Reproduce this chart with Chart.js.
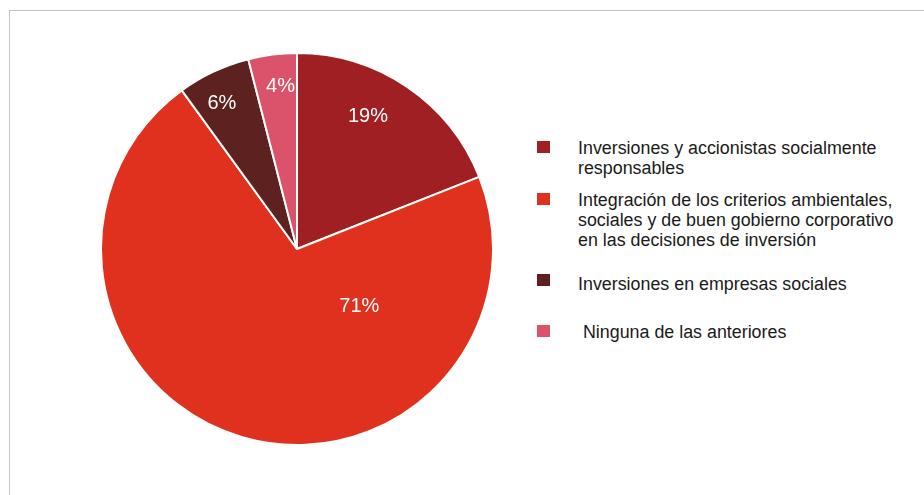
<!DOCTYPE html>
<html>
<head>
<meta charset="utf-8">
<script src="https://cdn.jsdelivr.net/npm/chart.js@4.4.1/dist/chart.umd.min.js"></script>
<style>
    body { margin: 0; background: #fff; font-family: "Liberation Sans", Arial, sans-serif; }
    #wrap { position: relative; width: 924px; height: 495px; overflow: hidden; }
    #frame { position: absolute; left: 9px; top: 10px; width: 1000px; height: 600px; border: 1px solid #c4c4c4; box-sizing: border-box; }
    #pie-box { position: absolute; left: 97px; top: 45px; width: 400px; height: 408px; }
    #legend { position: absolute; left: 0; top: 0; }
    .item { position: absolute; left: 537px; width: 380px; }
    .swatch { position: absolute; left: 0; width: 13px; height: 12px; }
    .text { position: absolute; left: 41px; font-size: 17.85px; line-height: 20px; color: #1a1a1a; white-space: pre; }
</style>
</head>
<body>
<div id="wrap">
    <div id="frame"></div>
    <div id="pie-box"><canvas id="pie"></canvas></div>
    <div id="legend"></div>
</div>
<script>
const categories = [
    ["Inversiones y accionistas socialmente", "responsables"],
    ["Integración de los criterios ambientales,", "sociales y de buen gobierno corporativo", "en las decisiones de inversión"],
    ["Inversiones en empresas sociales"],
    [" Ninguna de las anteriores"]
];
const shares = [19, 71, 6, 4];
const colors = ["#a01f23", "#e0311f", "#5d2120", "#db536b"];

// where each percentage sits inside its slice: fraction of the sweep, fraction of the radius
const labelSpots = [[0.41, 0.77], [0.25, 0.43], [0.41, 0.84], [0.60, 0.84]];

const sliceLabels = {
    id: "sliceLabels",
    afterDatasetsDraw(chart) {
        const ctx = chart.ctx;
        const meta = chart.getDatasetMeta(0);
        ctx.save();
        ctx.fillStyle = "#fff";
        ctx.font = "20px 'Liberation Sans', Arial, sans-serif";
        ctx.textAlign = "center";
        ctx.textBaseline = "middle";
        meta.data.forEach((arc, i) => {
            const p = arc.getProps(["x", "y", "startAngle", "endAngle", "outerRadius"], true);
            const [af, rf] = labelSpots[i];
            const a = p.startAngle + af * (p.endAngle - p.startAngle);
            const r = p.outerRadius * rf;
            ctx.fillText(shares[i] + "%", p.x + Math.cos(a) * r, p.y + Math.sin(a) * r + 1);
        });
        ctx.restore();
    }
};

const chart = new Chart(document.getElementById("pie"), {
    type: "pie",
    data: {
        labels: categories,
        datasets: [{
            data: shares,
            backgroundColor: colors,
            borderColor: "#fff",
            borderWidth: 2
        }]
    },
    options: {
        responsive: true,
        maintainAspectRatio: false,
        animation: false,
        radius: 196,
        layout: { padding: 0 },
        plugins: {
            legend: { display: false },
            tooltip: { enabled: false }
        }
    },
    plugins: [sliceLabels]
});

// legend beside the pie, one block per slice
const legendTops = [138, 190, 274, 322];
const legend = document.getElementById("legend");
chart.data.labels.forEach((lines, i) => {
    const item = document.createElement("div");
    item.className = "item";
    item.style.top = legendTops[i] + "px";
    const sw = document.createElement("div");
    sw.className = "swatch";
    sw.style.background = chart.data.datasets[0].backgroundColor[i];
    sw.style.top = (i === 2 ? 0 : 3) + "px";
    const txt = document.createElement("div");
    txt.className = "text";
    txt.style.top = "0px";
    txt.textContent = lines.join("\n");
    item.appendChild(sw);
    item.appendChild(txt);
    legend.appendChild(item);
});
</script>
</body>
</html>
